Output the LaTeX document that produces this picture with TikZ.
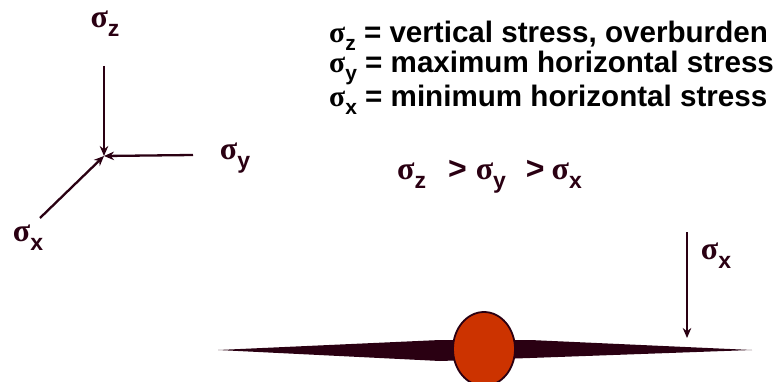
\documentclass[tikz,border=0pt]{standalone}
\usepackage{fontspec}
\setmainfont{Liberation Sans}
\newfontfamily\sigfont{Liberation Serif}
\usetikzlibrary{arrows.meta,shapes.geometric}
\definecolor{dk}{HTML}{2A0012}
\definecolor{ball}{HTML}{CC3300}
\def\subsz{20}
\newcommand{\sg}[1]{{\sigfont σ}\raisebox{-0.28em}{\fontsize{\subsz}{\subsz}\selectfont\bfseries #1}}
\tikzset{
  arr/.style={draw=dk, line width=2.3pt, -{Stealth[length=10pt,width=8.5pt]}},
  lbl/.style={text=dk, font=\def\subsz{23}\fontsize{32}{38}\selectfont\bfseries, inner sep=0pt},
  txt/.style={text=black, font=\def\subsz{21}\fontsize{29.6}{34}\selectfont\bfseries, inner sep=0pt, anchor=west}
}
\begin{document}
\begin{tikzpicture}[x=1pt,y=-1pt]
\useasboundingbox (0,0) rectangle (773,382);
% axes
\coordinate (o) at (104,156);
\coordinate (zs) at (104,66);
\coordinate (ys) at (193,155);
\coordinate (xs) at (40,218);
\draw[arr] (zs) -- (o);
\draw[arr] (ys) -- (o);
\draw[arr] (xs) -- (o);
\node[lbl] (lz) at (105,24) {\sg{z}};
\node[lbl] (ly) at (235,158) {\sg{y}};
\node[lbl] (lx) at (28,238) {\sg{x}};
% legend
\node[txt] (t1) at (329,36) {\sg{z} = vertical stress, overburden};
\node[txt] (t2) at (329,68) {\sg{y} = maximum horizontal stress};
\node[txt] (t3) at (329,100) {\sg{x} = minimum horizontal stress};
\node[lbl, anchor=west] (ineq) at (397,177) {\sg{z}\hspace{22pt}>\hspace{9pt}\sg{y}\hspace{20pt}>\hspace{7pt}\sg{x}};
% fracture
\fill[dk] (218,350) -- (440,340) -- (530,340) -- (752,350) -- (530,358) -- (440,361) -- cycle;
\node[draw=dk, line width=1.8pt, fill=ball, ellipse, minimum width=62pt, minimum height=74pt, inner sep=0pt] (b) at (484,349) {};
% sigma x arrow
\coordinate (as) at (687,232);
\coordinate (ae) at (687,338);
\draw[arr] (as) -- (ae);
\node[lbl] (lx2) at (716,256) {\sg{x}};
\end{tikzpicture}
\end{document}
